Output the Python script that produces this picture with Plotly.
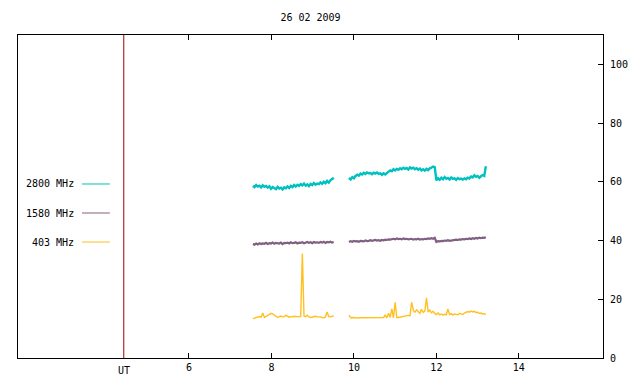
import plotly.graph_objects as go

# ---- data ----
title_text = "26 02 2009"
ut_hour = 4.42
x_ticks = [6, 8, 10, 12, 14]
y_ticks = [0, 20, 40, 60, 80, 100]

seg1_start, seg2_start, step = 7.55, 9.88, 0.04

f2800_seg1 = [58.6, 58.2, 58.9, 58.4, 58.7, 58.1, 58.8, 58.3, 58.6, 58.0,
              58.5, 57.6, 58.2, 57.9, 57.5, 58.3, 57.7, 58.0, 57.4, 58.1,
              57.8, 58.4, 57.9, 58.6, 58.2, 58.9, 58.4, 59.0, 58.6, 59.2,
              58.8, 59.4, 58.7, 59.1, 58.5, 59.3, 58.9, 59.6, 59.0, 59.4,
              59.2, 59.8, 59.3, 60.0, 59.5, 60.3, 59.7, 60.5, 60.9, 61.4]
f2800_seg2 = [61.3, 60.8, 61.6, 61.2, 62.0, 62.4, 62.1, 62.8, 62.5, 63.1,
              62.7, 63.2, 62.9, 63.0, 62.6, 63.1, 62.8, 63.2, 62.7, 62.9,
              62.4, 62.9, 62.5, 63.0, 63.4, 63.9, 63.6, 64.3, 63.9, 64.4,
              64.1, 64.6, 64.3, 64.8, 64.4, 64.7, 64.2, 64.9, 64.5, 64.8,
              64.3, 64.6, 64.1, 64.5, 63.9, 64.3, 63.8, 64.4, 64.0, 64.6,
              64.8, 65.2, 65.0,
              60.5, 61.2, 60.7, 61.4, 60.9, 61.6, 61.0,
              61.3, 60.8, 61.5, 61.0, 61.2, 60.7, 61.3, 60.9, 61.1, 60.8,
              61.2, 60.9, 61.4, 61.1, 61.8, 61.5, 62.2, 61.7, 62.0, 61.4,
              61.9, 62.3, 62.0, 65.3]

f1580_seg1 = [38.8, 38.6, 39.0, 38.7, 39.1, 38.8, 39.0, 38.9, 39.2, 38.8,
              39.1, 39.0, 39.3, 38.9, 39.2, 39.1, 39.0, 39.3, 38.8, 39.2,
              39.1, 39.3, 39.0, 39.4, 39.1, 39.2, 39.4, 39.0, 39.3, 39.2,
              39.4, 39.1, 39.3, 39.5, 39.2, 39.4, 39.1, 39.5, 39.3, 39.4,
              39.2, 39.5, 39.3, 39.6, 39.2, 39.5, 39.4, 39.6, 39.3, 39.5]
f1580_seg2 = [39.5, 39.8, 39.6, 39.9, 39.7, 39.8, 39.6, 39.9, 39.8, 39.7,
              40.0, 39.8, 39.9, 40.1, 39.9, 40.0, 40.2, 40.0, 40.1, 39.9,
              40.2, 40.1, 40.3, 40.2, 40.4, 40.3, 40.5, 40.6, 40.4, 40.7,
              40.5, 40.6, 40.4, 40.7, 40.5, 40.6, 40.4, 40.5, 40.6, 40.3,
              40.5, 40.4, 40.6, 40.3, 40.5, 40.4, 40.6, 40.5, 40.7, 40.6,
              40.8, 40.6, 40.9,
              39.5, 39.8, 39.7, 39.9, 39.8, 40.0, 39.9,
              40.1, 39.9, 40.0, 40.2, 40.1, 40.3, 40.2, 40.4, 40.3, 40.5,
              40.4, 40.6, 40.5, 40.7, 40.5, 40.8, 40.6, 40.9, 40.7, 41.0,
              40.8, 41.0, 40.9, 41.1]

f403_seg1 = [13.4, 13.6, 13.9, 14.0, 14.1, 13.9, 15.3, 13.8, 14.2, 14.5,
             14.9, 15.2, 15.0, 14.6, 14.2, 13.8, 14.1, 14.3, 14.0, 14.1,
             14.5, 14.2, 13.9, 14.1, 14.0, 14.2, 14.1, 13.9, 14.0, 14.2,
             35.6, 14.3, 14.1, 14.6, 14.0, 13.8, 13.9, 14.1, 14.2, 14.0,
             14.1, 14.0, 13.8, 13.7, 14.0, 15.7, 14.1, 14.0, 14.2, 14.3]
f403_seg2 = [14.6, 13.7, 13.8, 13.7, 13.6, 13.6, 13.7, 13.7, 13.8, 13.7,
             13.7, 13.6, 13.7, 13.7, 13.7, 13.8, 13.7, 13.7, 13.7, 13.7,
             13.7, 13.8, 14.6, 13.7, 15.2, 13.8, 16.7, 13.7, 19.0, 13.8,
             13.8, 13.9, 14.0, 14.3, 14.4, 14.3, 14.5, 14.4, 19.0, 16.2,
             15.6, 16.4, 15.8, 15.2, 16.6, 15.5, 16.0, 20.5, 15.7, 16.3,
             15.4, 15.9, 15.2, 14.8, 15.3, 14.7, 15.0, 14.6, 14.9, 14.7,
             16.7, 14.8, 15.1, 14.6, 15.0, 14.8, 14.7, 15.2, 14.9, 14.8,
             15.3, 15.5, 15.8, 15.6, 16.0, 15.7, 15.9, 15.5, 15.6, 15.2,
             15.3, 15.0, 15.1, 14.8]

series_names = ["2800 MHz", "1580 MHz", "403 MHz"]
series_colors = ["#00c0c0", "#806080", "#ffc020"]
series_widths = [2.4, 2.2, 1.4]
series_data = [(f2800_seg1, f2800_seg2), (f1580_seg1, f1580_seg2), (f403_seg1, f403_seg2)]


def times(start, n):
    return [round(start + step * i, 4) for i in range(n)]


FONT = "DejaVu Sans Mono"
fig = go.Figure()

for name, color, w, (s1, s2) in zip(series_names, series_colors, series_widths, series_data):
    xs = times(seg1_start, len(s1)) + [None] + times(seg2_start, len(s2))
    ys = list(s1) + [None] + list(s2)
    fig.add_trace(go.Scatter(x=xs, y=ys, mode="lines", name=name,
                             line=dict(color=color, width=w), connectgaps=False,
                             showlegend=False, hoverinfo="skip"))

# UT red line
fig.add_shape(type="line", xref="x", yref="paper", x0=ut_hour, x1=ut_hour, y0=0, y1=1,
              line=dict(color="#a00000", width=1))

# manual gnuplot-style key
key_y = [0.5387, 0.4489, 0.3591]
for name, color, ky in zip(series_names, series_colors, key_y):
    fig.add_annotation(x=0.0991, y=ky, xref="paper", yref="paper", text=name,
                       showarrow=False, xanchor="right", yanchor="middle",
                       font=dict(family=FONT, size=10, color="black"))
    fig.add_shape(type="line", xref="paper", yref="paper", x0=0.1094, x1=0.157,
                  y0=ky, y1=ky, line=dict(color=color, width=1))

fig.add_annotation(x=ut_hour, y=-12 / 323, xref="x", yref="paper", text="UT",
                   showarrow=False, xanchor="center", yanchor="middle",
                   font=dict(family=FONT, size=10, color="black"))

fig.update_layout(
    width=640, height=384,
    margin=dict(l=18, r=37, t=35, b=26),
    paper_bgcolor="white", plot_bgcolor="white",
    font=dict(family=FONT, size=10, color="black"),
    title=dict(text=title_text, x=(18 + 292.5) / 640, xanchor="center",
               y=1 - 17 / 384, yanchor="middle",
               font=dict(family=FONT, size=10, color="black")),
    showlegend=False,
)
fig.update_xaxes(range=[1.855, 16.04], tickvals=x_ticks, ticktext=[str(v) for v in x_ticks],
                 ticks="inside", ticklen=5, tickcolor="black", showline=True,
                 linecolor="black", linewidth=1, mirror="ticks", showgrid=False,
                 zeroline=False)
fig.update_yaxes(range=[0, 110], tickvals=y_ticks, side="right",
                 ticks="inside", ticklen=5, tickcolor="black", showline=True,
                 linecolor="black", linewidth=1, mirror=True, showgrid=False,
                 zeroline=False, ticklabelstandoff=4)

fig.write_html("out.html", config={"displayModeBar": False},
               post_script="document.body.style.margin='0';document.body.style.padding='0';")
